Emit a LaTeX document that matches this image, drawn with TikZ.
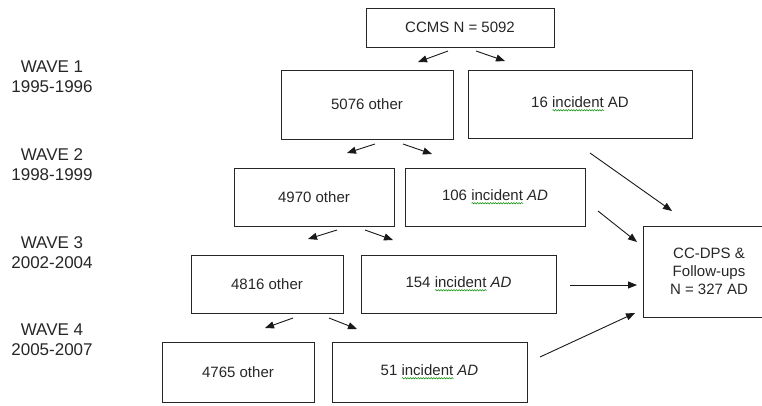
\documentclass[tikz,border=0pt]{standalone}
\usepackage{fontspec}
\setmainfont{Liberation Sans}
\usetikzlibrary{arrows.meta,decorations.pathmorphing}

\newsavebox\spellbox
\newcommand{\spell}[1]{\sbox\spellbox{#1}\rlap{\tikz[baseline=0pt]\draw[green!55!black,line width=0.5pt,decorate,decoration={snake,amplitude=0.7pt,segment length=2.6pt}] (0pt,-2.6pt) -- (\wd\spellbox,-2.6pt);}\usebox\spellbox}

\begin{document}
\begin{tikzpicture}[x=1pt,y=-1pt,
  box/.style={draw=black!85,line width=0.9pt,inner sep=0pt,align=center,
    text=black!85,font=\fontsize{15}{18}\selectfont},
  wave/.style={align=center,text=black!85,font=\fontsize{17}{20}\selectfont},
  arr/.style={-{Triangle[length=9pt,width=7pt]},line width=0.9pt,draw=black!90}]
\useasboundingbox (0,0) rectangle (762,405);

% waves
\node[wave] (w1) at (52,77)  {WAVE 1\\1995-1996};
\node[wave] (w2) at (52,165) {WAVE 2\\1998-1999};
\node[wave] (w3) at (52,253) {WAVE 3\\2002-2004};
\node[wave] (w4) at (52,340) {WAVE 4\\2005-2007};

% boxes
\node[box,minimum width=188pt,minimum height=39pt] (ccms) at (460,27.5) {CCMS N = 5092};
\node[box,minimum width=172pt,minimum height=69pt] (o1) at (367,104.5) {5076 other};
\node[box,minimum width=224pt,minimum height=68pt] (i1) at (580,104) {16 \spell{incident} AD};
\node[box,minimum width=160pt,minimum height=58pt] (o2) at (314,197) {4970 other};
\node[box,minimum width=180pt,minimum height=58pt] (i2) at (495,197) {106 \spell{incident} \textit{AD}};
\node[box,minimum width=152pt,minimum height=58pt] (o3) at (267,284) {4816 other};
\node[box,minimum width=195pt,minimum height=58pt] (i3) at (458.5,284) {154 \spell{incident} \textit{AD}};
\node[box,minimum width=152pt,minimum height=60pt] (o4) at (238,372) {4765 other};
\node[box,minimum width=195pt,minimum height=60pt] (i4) at (429.5,372) {51 \spell{incident} \textit{AD}};
\node[box,minimum width=132pt,minimum height=91pt] (cc) at (709,271.5) {CC-DPS \&\\Follow-ups\\N = 327 AD};

% arrow ends
\coordinate (l0) at (448,51);  \coordinate (l0e) at (418,62);
\coordinate (r0) at (476,51);  \coordinate (r0e) at (505,61);
\coordinate (l1) at (375,144); \coordinate (l1e) at (347,153);
\coordinate (r1) at (403,144); \coordinate (r1e) at (432,154);
\coordinate (l2) at (337,230); \coordinate (l2e) at (308,239);
\coordinate (r2) at (365,230); \coordinate (r2e) at (393,240);
\coordinate (l3) at (293,318); \coordinate (l3e) at (265,328);
\coordinate (r3) at (329,318); \coordinate (r3e) at (357,329);
\coordinate (c1) at (590,153); \coordinate (c1e) at (672,211);
\coordinate (c2) at (598,211); \coordinate (c2e) at (637,242);
\coordinate (c3) at (570,285); \coordinate (c3e) at (637,285);
\coordinate (c4) at (540,357); \coordinate (c4e) at (635,313);

\path
  (l0) edge[arr] (l0e)
  (r0) edge[arr] (r0e)
  (l1) edge[arr] (l1e)
  (r1) edge[arr] (r1e)
  (l2) edge[arr] (l2e)
  (r2) edge[arr] (r2e)
  (l3) edge[arr] (l3e)
  (r3) edge[arr] (r3e)
  (c1) edge[arr] (c1e)
  (c2) edge[arr] (c2e)
  (c3) edge[arr] (c3e)
  (c4) edge[arr] (c4e);
\end{tikzpicture}
\end{document}
